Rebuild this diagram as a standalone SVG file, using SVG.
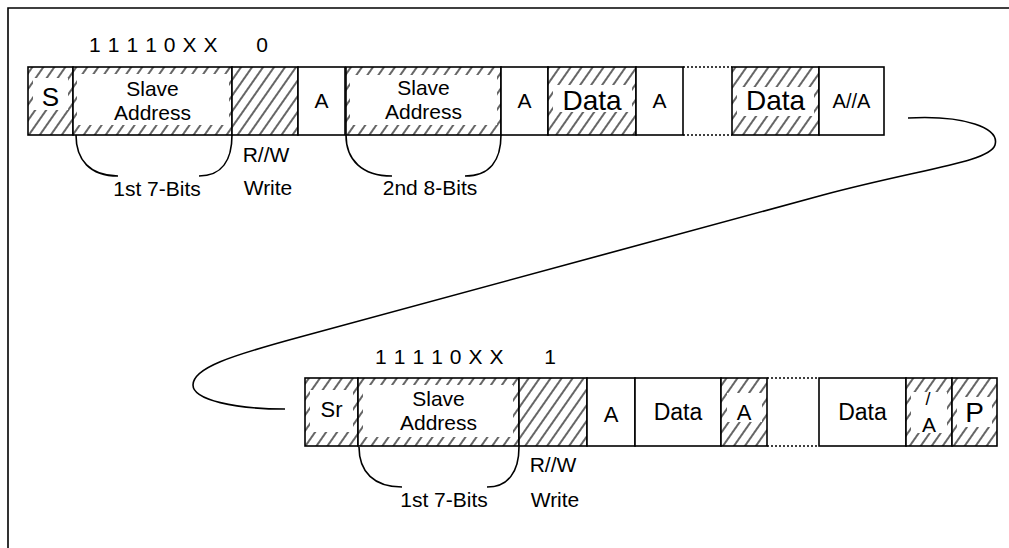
<svg xmlns="http://www.w3.org/2000/svg" width="1009" height="548" viewBox="0 0 1009 548">
<defs>
<pattern id="hatch" patternUnits="userSpaceOnUse" width="9" height="9" patternTransform="rotate(35)">
<rect width="9" height="9" fill="#fff"/>
<line x1="2" y1="0" x2="2" y2="9" stroke="#333" stroke-width="1.5"/>
</pattern>
<style>
.box{stroke:#000;stroke-width:1.6;fill:#fff}
.hb{stroke:#000;stroke-width:1.6;fill:url(#hatch)}
.wh{fill:#fff;stroke:none}
.dot{stroke:#000;stroke-width:1.6;stroke-dasharray:2 2;fill:none}
.ln{stroke:#000;stroke-width:1.6;fill:none}
text{font-family:"Liberation Sans",Arial,sans-serif;fill:#000}
.c{text-anchor:middle}
</style>
</defs>
<rect width="1009" height="548" fill="#fff"/>
<g id="frame"><path class="ln" d="M8,548 L8,8 L1009,8" stroke-width="2"/></g>

<g id="hdr1" font-size="21">
<text x="89" y="52" letter-spacing="0.6">1 1 1 1 0 X X</text>
<text x="262" y="52" class="c">0</text>
</g>

<g id="t-S"><rect class="hb" x="28" y="67" width="45" height="68"/><rect class="wh" x="33" y="78" width="35" height="32"/><text x="50.5" y="106" class="c" font-size="26">S</text></g>
<g id="t-addr1" font-size="21"><rect class="hb" x="73" y="67" width="159" height="68"/><rect class="wh" x="77" y="74" width="152" height="51"/><text x="152.5" y="96" class="c">Slave</text><text x="152.5" y="120" class="c">Address</text></g>
<g id="t-rw"><rect class="hb" x="232" y="67" width="66" height="68"/></g>
<g id="t-A1"><rect class="box" x="298" y="67" width="47" height="68"/><text x="321.5" y="108" class="c" font-size="21">A</text></g>
<g id="t-addr2" font-size="21"><rect class="hb" x="346" y="67" width="155" height="68"/><rect class="wh" x="350" y="75" width="147" height="50"/><text x="423.5" y="95" class="c">Slave</text><text x="423.5" y="119" class="c">Address</text></g>
<g id="t-A2"><rect class="box" x="501" y="67" width="47" height="68"/><text x="524.5" y="108" class="c" font-size="21">A</text></g>
<g id="t-data1"><rect class="hb" x="548" y="67" width="88" height="68"/><rect class="wh" x="553" y="85" width="79" height="27"/><text x="592" y="110" class="c" font-size="28">Data</text></g>
<g id="t-A3"><rect class="box" x="636" y="67" width="47" height="68"/><text x="659.5" y="108" class="c" font-size="21">A</text></g>
<g id="t-gap"><path class="dot" d="M683,67 H732 M683,135 H732"/></g>
<g id="t-data2"><rect class="hb" x="732" y="67" width="87" height="68"/><rect class="wh" x="737" y="87" width="77" height="29"/><text x="775.5" y="110" class="c" font-size="28">Data</text></g>
<g id="t-AA"><rect class="box" x="819" y="67" width="65" height="68"/><text x="851.5" y="108" class="c" font-size="20">A//A</text></g>

<g id="t-labels" font-size="21">
<text x="266" y="162" class="c">R//W</text>
<text x="268" y="195" class="c">Write</text>
<text x="157" y="196" class="c">1st 7-Bits</text>
<text x="430" y="195" class="c">2nd 8-Bits</text>
</g>

<g id="hdr2" font-size="21">
<text x="375" y="364" letter-spacing="0.6">1 1 1 1 0 X X</text>
<text x="550" y="364" class="c">1</text>
</g>

<g id="b-Sr"><rect class="hb" x="305" y="378" width="53" height="68"/><rect class="wh" x="310" y="390" width="43" height="42"/><text x="331.5" y="417" class="c" font-size="22">Sr</text></g>
<g id="b-addr" font-size="21"><rect class="hb" x="358" y="378" width="161" height="68"/><rect class="wh" x="363" y="385" width="150" height="52"/><text x="438.5" y="406" class="c">Slave</text><text x="438.5" y="430" class="c">Address</text></g>
<g id="b-rw"><rect class="hb" x="519" y="378" width="68" height="68"/></g>
<g id="b-A1"><rect class="box" x="587" y="378" width="48" height="68"/><text x="611" y="422" class="c" font-size="22">A</text></g>
<g id="b-data1"><rect class="box" x="635" y="378" width="86" height="68"/><text x="678" y="420" class="c" font-size="23">Data</text></g>
<g id="b-A2"><rect class="hb" x="721" y="378" width="46" height="68"/><rect class="wh" x="727" y="393" width="35" height="29"/><text x="744" y="420" class="c" font-size="22">A</text></g>
<g id="b-gap"><path class="dot" d="M767,378 H819 M767,446 H819"/></g>
<g id="b-data2"><rect class="box" x="819" y="378" width="87" height="68"/><text x="862.5" y="420" class="c" font-size="23">Data</text></g>
<g id="b-nA"><rect class="hb" x="906" y="378" width="46" height="68"/><rect class="wh" x="911" y="392" width="36" height="41"/><text x="928" y="405" class="c" font-size="18">/</text><text x="929" y="432" class="c" font-size="21">A</text></g>
<g id="b-P"><rect class="hb" x="952" y="378" width="45" height="68"/><rect class="wh" x="957" y="397" width="35" height="30"/><text x="974.5" y="422" class="c" font-size="28">P</text></g>

<g id="b-labels" font-size="21">
<text x="553" y="472" class="c">R//W</text>
<text x="555" y="507" class="c">Write</text>
<text x="444" y="507" class="c">1st 7-Bits</text>
</g>

<g id="connectors">
<path class="ln" d="M76,135 C76,160 90,176 118,176 M232,135 C232,160 222,176 199,176"/>
<path class="ln" d="M346,135 C346,160 362,176 392,176 M501,135 C501,160 490,176 465,176"/>
<path class="ln" d="M359,447 C359,472 374,487 402,487 M519,447 C519,472 508,487 487,487"/>
<path class="ln" d="M908,118 C965,115 1000,128 995,145 C990,162 920,169 823,195 L300,337 C230,356 193,368 193,385 C193,400 235,409 285,409"/>
</g>
</svg>
